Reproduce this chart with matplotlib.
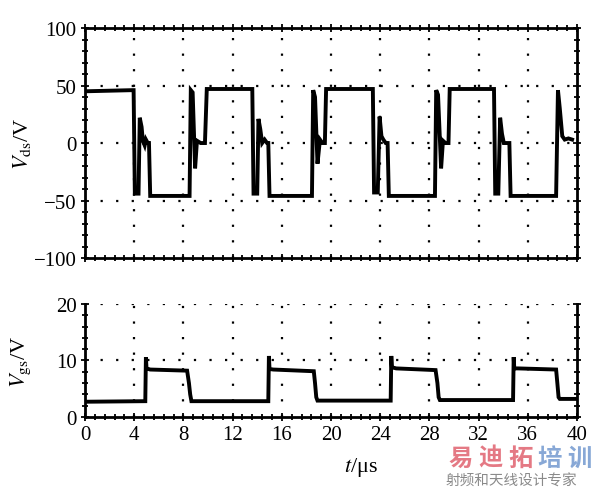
import numpy as np
import matplotlib
matplotlib.use("Agg")
import matplotlib.pyplot as plt
from matplotlib.ticker import MultipleLocator

plt.rcParams['font.family'] = ['Liberation Serif', 'DejaVu Serif']
plt.rcParams['mathtext.fontset'] = 'stix'

# drain-source voltage, breakpoints (us, V)
vds_t = [0.0, 3.9, 3.95, 4.05, 4.35, 4.45, 4.6, 4.7, 4.85, 4.95, 5.1, 5.2, 5.3,
         8.35, 8.5, 8.6, 8.75, 8.95, 9.1, 9.4, 9.6, 9.75, 9.9,
         13.5, 13.6, 13.7, 14.0, 14.1, 14.25, 14.4, 14.6, 14.8, 14.9, 15.0,
         18.3, 18.45, 18.55, 18.7, 18.9, 19.1, 19.3, 19.5, 19.6,
         23.3, 23.4, 23.5, 23.8, 23.95, 24.1, 24.25, 24.45, 24.6, 24.7,
         28.3, 28.45, 28.55, 28.7, 28.95, 29.1, 29.3, 29.55, 29.65,
         33.15, 33.25, 33.35, 33.6, 33.75, 33.9, 34.05, 34.3, 34.5, 34.6,
         38.15, 38.3, 38.45, 38.6, 38.8, 39.0, 39.3, 39.6]
vds_v = [45, 46, 46, -44, -44, 22, 14, 2, -2, 3, 0, 0, -46,
         -46, -46, 46, 44, -22, 2, 0, 0, 0, 47,
         47, 47, -44, -44, 21, 12, 0, 3, 0, 0, -46,
         -46, -46, 46, 40, -18, 3, 0, 0, 47,
         47, 47, -43, -43, 23, 6, 3, 0, 0, -46,
         -46, -46, 46, 42, -22, 2, 0, 0, 47,
         47, 47, -44, -44, 22, 8, 0, 0, 0, -46,
         -46, -46, 46, 30, 6, 3, 4, 3]

# gate-source voltage
vgs_t = [0.0, 4.9, 4.95, 5.0, 5.3, 8.3, 8.45, 8.55, 8.65,
         14.9, 14.95, 15.0, 15.3, 18.6, 18.7, 18.8, 18.9,
         24.85, 24.9, 24.95, 25.3, 28.5, 28.65, 28.75, 28.85,
         34.8, 34.85, 34.9, 35.2, 38.3, 38.4, 38.5, 38.6, 40.0]
vgs_v = [2.7, 2.8, 10.6, 8.6, 8.4, 8.2, 6.0, 4.0, 2.8,
         2.8, 10.8, 8.5, 8.4, 8.1, 6.0, 3.5, 2.9,
         2.9, 10.8, 8.8, 8.6, 8.3, 6.0, 3.5, 3.0,
         3.0, 10.6, 8.6, 8.6, 8.4, 6.0, 3.5, 3.2, 3.2]

xticks = [0, 4, 8, 12, 16, 20, 24, 28, 32, 36, 40]
dot = (0, (1, 6))

fig = plt.figure(figsize=(6, 4.89), dpi=100)
ax1 = fig.add_axes([0.1417, 0.4703, 0.82, 0.4703])
ax2 = fig.add_axes([0.1417, 0.1452, 0.82, 0.2311])

for ax in (ax1, ax2):
    ax.set_xlim(0, 40)
    ax.set_xticks(xticks)
    ax.xaxis.set_minor_locator(MultipleLocator(0.8))
    for sp in ax.spines.values():
        sp.set_linewidth(2.0)
    ax.tick_params(which='both', direction='inout', labelsize=15, width=1.3)
    ax.tick_params(which='major', length=6, pad=3)
    ax.tick_params(which='minor', length=4)
    ax.tick_params(top=True, right=True, which='both')

# top panel
ax1.plot(vds_t, vds_v, color='black', lw=2.8, solid_joinstyle='miter')
ax1.set_ylim(-100, 100)
ax1.set_yticks([-100, -50, 0, 50, 100])
ax1.set_yticklabels(['\u2212100', '\u221250', '0', '50', '100'])
ax1.yaxis.set_minor_locator(MultipleLocator(10))
ax1.set_xticklabels([])
for x in xticks[1:-1]:
    ax1.axvline(x, color='black', lw=1.6, ls=dot)
for y in [-50, 0, 50]:
    ax1.axhline(y, color='black', lw=1.6, ls=dot)
ax1.set_ylabel(r'$V_{\rm ds}$/V', fontsize=16)
ax1.yaxis.set_label_coords(-0.105, 0.5)

# bottom panel
ax2.plot(vgs_t, vgs_v, color='black', lw=2.8, solid_joinstyle='miter')
ax2.set_ylim(0, 20)
ax2.set_yticks([0, 10, 20])
ax2.yaxis.set_minor_locator(MultipleLocator(2))
ax2.spines['top'].set_visible(False)
ax2.tick_params(top=False, which='both')
for x in xticks[1:-1]:
    ax2.axvline(x, color='black', lw=1.6, ls=dot)
for y in [10, 20]:
    ax2.axhline(y, color='black', lw=1.6, ls=dot)
ax2.set_ylabel(r'$V_{\rm gs}$/V', fontsize=16)
ax2.yaxis.set_label_coords(-0.105, 0.5)
ax2.set_xlabel('$t$/\u03bcs', fontsize=16)
ax2.xaxis.set_label_coords(0.56, -0.34)

# watermark
wm = ['Noto Sans CJK SC', 'DejaVu Sans']
wm_chars = ['易', '迪', '拓', '培', '训']
wm_colors = ['#e26b77', '#e26b77', '#e26b77', '#7b9fd2', '#7b9fd2']
for i, (ch, c) in enumerate(zip(wm_chars, wm_colors)):
    fig.text(0.768 + i * 0.0493, 0.037, ch, color=c, fontsize=17.5,
             weight='bold', family=wm, ha='center', va='bottom', alpha=0.9)
fig.text(0.742, 0.0, '射频和天线设计专家', color='#8a8a8a', fontsize=10.5,
         family=wm, ha='left', va='bottom')

fig.savefig('out.png', dpi=100)
